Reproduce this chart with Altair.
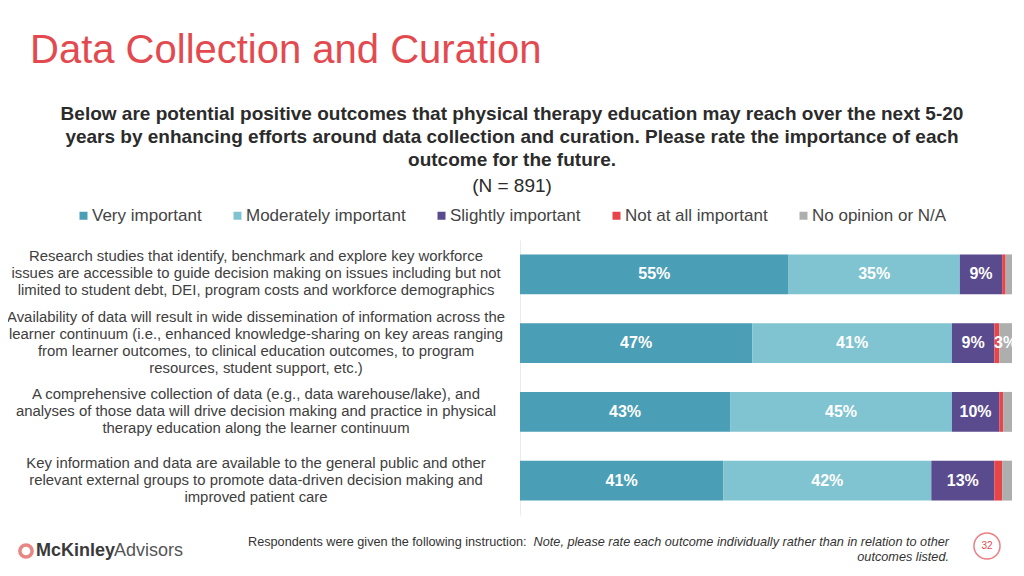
import altair as alt
import pandas as pd

FONT = "Liberation Sans"

title_text = "Data Collection and Curation"
subtitle_lines = [
    "Below are potential positive outcomes that physical therapy education may reach over the next 5-20",
    "years by enhancing efforts around data collection and curation. Please rate the importance of each",
    "outcome for the future.",
]
n_text = "(N = 891)"

categories = [
    "Research studies that identify, benchmark and explore key workforce\nissues are accessible to guide decision making on issues including but not\nlimited to student debt, DEI, program costs and workforce demographics",
    "Availability of data will result in wide dissemination of information across the\nlearner continuum (i.e., enhanced knowledge-sharing on key areas ranging\nfrom learner outcomes, to clinical education outcomes, to program\nresources, student support, etc.)",
    "A comprehensive collection of data (e.g., data warehouse/lake), and\nanalyses of those data will drive decision making and practice in physical\ntherapy education along the learner continuum",
    "Key information and data are available to the general public and other\nrelevant external groups to promote data-driven decision making and\nimproved patient care",
]
levels = ["Very important", "Moderately important", "Slightly important",
          "Not at all important", "No opinion or N/A"]
colors = ["#4A9EB5", "#80C3D1", "#5A4A8E", "#E8454B", "#AEAEAE"]

very_important = [54.6, 47.2, 42.7, 41.3]
moderately_important = [34.8, 40.6, 45.1, 42.3]
slightly_important = [8.6, 8.6, 9.6, 12.8]
not_at_all_important = [0.7, 1.0, 0.8, 1.6]
no_opinion = [1.3, 2.6, 1.8, 2.0]

footer_plain = "Respondents were given the following instruction: "
footer_italic_1 = "Note, please rate each outcome individually rather than in relation to other"
footer_italic_2 = "outcomes listed."
page_number = "32"

# ---- build table ----
series = [very_important, moderately_important, slightly_important,
          not_at_all_important, no_opinion]
rows = []
for ci, cat in enumerate(categories):
    start = 0.0
    for li, lev in enumerate(levels):
        v = series[li][ci]
        rows.append({"label": cat, "level": lev, "idx": li, "value": v,
                     "start": start, "end": start + v, "mid": start + v / 2,
                     "txt": f"{int(v + 0.5)}%" if v >= 2.5 else ""})
        start += v
df = pd.DataFrame(rows)

xscale = alt.Scale(domain=[0, 100], nice=False, zero=True)
yscale = alt.Scale(domain=categories, paddingInner=0.42, paddingOuter=0.21)

bars = alt.Chart(df).mark_bar().encode(
    y=alt.Y("label:N", scale=yscale, title=None,
            axis=alt.Axis(labels=False, ticks=False, domain=True,
                          domainColor="#EBEBEB", domainWidth=1, grid=False)),
    x=alt.X("start:Q", scale=xscale, axis=None),
    x2="end:Q",
    color=alt.Color("level:N", scale=alt.Scale(domain=levels, range=colors),
                    legend=alt.Legend(title=None, orient="none", direction="horizontal",
                                      legendX=-445, legendY=-33,
                                      symbolType="square", symbolSize=64,
                                      symbolStrokeWidth=0, labelFontSize=17,
                                      labelColor="#444444", labelFont=FONT,
                                      columnPadding=27, labelOffset=0, padding=0)),
    order=alt.Order("idx:Q"),
)

bar_labels = alt.Chart(df[df["txt"] != ""]).mark_text(
    color="white", fontWeight="bold", fontSize=16, font=FONT, clip=True,
    baseline="middle", align="center",
).encode(
    y=alt.Y("label:N", scale=yscale),
    x=alt.X("mid:Q", scale=xscale),
    text="txt:N",
)

LH = 17
row_label_layers = []
for cat in categories:
    n = cat.count("\n") + 1
    row_label_layers.append(
        alt.Chart(pd.DataFrame({"label": [cat]})).mark_text(
            align="center", baseline="middle", fontSize=14.9, font=FONT,
            color="#404040", lineBreak="\n", lineHeight=LH,
            dy=-(n - 1) * LH / 2,
        ).encode(
            y=alt.Y("label:N", scale=yscale),
            x=alt.value(-264),
            text="label:N",
        )
    )


def note(text, x, y, **kw):
    base = dict(font=FONT)
    base.update(kw)
    return alt.Chart(pd.DataFrame({"t": [text]})).mark_text(**base).encode(
        x=alt.value(x), y=alt.value(y), text="t:N")


layers = [bars, bar_labels] + row_label_layers
layers.append(note(title_text, -490, -177, fontSize=40, color="#E34A4F",
                   align="left", baseline="alphabetic"))
for i, line in enumerate(subtitle_lines):
    layers.append(note(line, -8, -126 + 23 * i, fontSize=19, fontWeight="bold",
                       color="#2B2B2B", align="center", baseline="middle"))
layers.append(note(n_text, -8, -54, fontSize=19, color="#2B2B2B",
                   align="center", baseline="middle"))
layers.append(note(footer_plain, -272, 302, fontSize=12.7, color="#333333",
                   align="left", baseline="middle"))
layers.append(note(footer_italic_1, 429, 302, fontSize=12.7, color="#333333",
                   fontStyle="italic", align="right", baseline="middle"))
layers.append(note(footer_italic_2, 429, 317, fontSize=12.7, color="#333333",
                   fontStyle="italic", align="right", baseline="middle"))
layers.append(note("McKinley", -484, 311, fontSize=18, fontWeight="bold",
                   color="#3A3A3A", align="left", baseline="middle"))
layers.append(note("Advisors", -406, 311, fontSize=18, color="#555555",
                   align="left", baseline="middle"))

icon = alt.Chart(pd.DataFrame({"t": [1]})).mark_point(
    shape="circle", filled=False, stroke="#E0524F", strokeWidth=3.5, size=150
).encode(x=alt.value(-494), y=alt.value(311))
layers.append(icon)

page_circle = alt.Chart(pd.DataFrame({"t": [1]})).mark_point(
    shape="circle", filled=False, stroke="#E34A4F", strokeWidth=1.5, size=680
).encode(x=alt.value(467), y=alt.value(306))
layers.append(page_circle)
layers.append(note(page_number, 467, 306, fontSize=10, color="#E34A4F",
                   align="center", baseline="middle"))

chart = alt.layer(*layers).properties(
    width=492, height=275,
    autosize=alt.AutoSizeParams(type="none"),
    padding={"left": 512, "top": 232, "right": 4, "bottom": 53},
).configure(font=FONT).configure_view(stroke=None)

chart.save("out.html", embed_options={"renderer": "svg", "actions": False})
